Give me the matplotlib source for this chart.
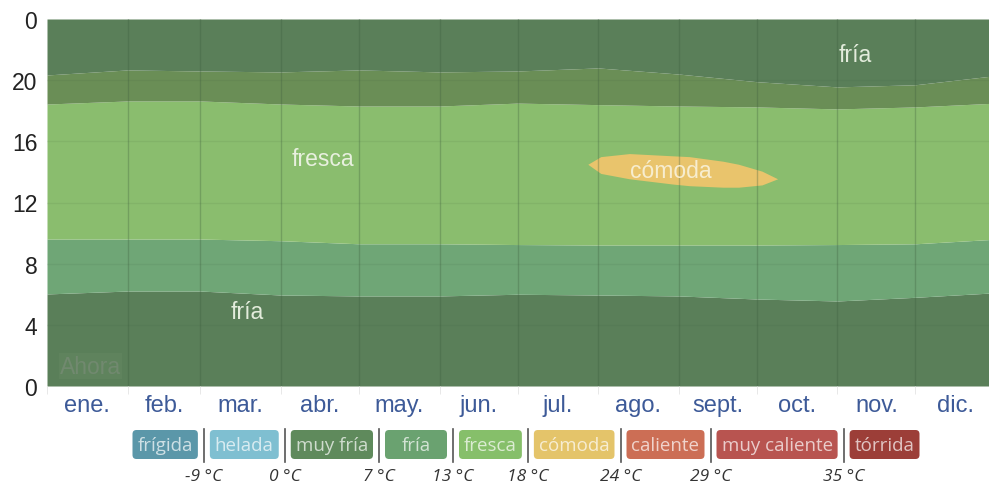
import matplotlib.pyplot as plt
import numpy as np
from matplotlib.patches import FancyBboxPatch

plt.rcParams['font.family'] = ['Liberation Sans', 'DejaVu Sans']

# días del año donde empieza cada mes (y fin de año)
inicio_mes = [0, 31, 59, 90, 120, 151, 181, 212, 243, 273, 304, 334, 365]
meses = ['ene.', 'feb.', 'mar.', 'abr.', 'may.', 'jun.',
         'jul.', 'ago.', 'sept.', 'oct.', 'nov.', 'dic.']

lim_fria_abajo = [6.02, 6.21, 6.21, 5.95, 5.89, 5.89, 6.0, 5.95, 5.89, 5.69, 5.56, 5.8, 6.1]
lim_fresca_abajo = [9.61, 9.61, 9.61, 9.5, 9.3, 9.3, 9.25, 9.22, 9.22, 9.22, 9.25, 9.3, 9.6]
lim_fresca_arriba = [18.44, 18.64, 18.64, 18.44, 18.31, 18.31, 18.5, 18.4, 18.31, 18.25, 18.12, 18.25, 18.5]
lim_fria_arriba = [20.34, 20.67, 20.6, 20.54, 20.67, 20.54, 20.6, 20.8, 20.4, 19.9, 19.56, 19.7, 20.3]

# zona cómoda
dias_comoda = [208, 213, 224, 241, 247, 260, 266, 275, 281]
comoda_arriba = [14.5, 15.0, 15.2, 15.05, 15.0, 14.7, 14.5, 14.05, 13.55]
comoda_abajo = [14.5, 13.9, 13.55, 13.2, 13.1, 13.0, 13.0, 13.15, 13.55]

horas_ticks = [0, 4, 8, 12, 16, 20, 24]
horas_labels = ['0', '4', '8', '12', '16', '20', '0']

# leyenda
categorias = ['frígida', 'helada', 'muy fría', 'fría', 'fresca',
              'cómoda', 'caliente', 'muy caliente', 'tórrida']
colores_cat = ['#5b97a9', '#7fbfd1', '#5f8a5c', '#6aa270', '#86bf6a',
               '#e4c46a', '#cc6e55', '#b85450', '#9c3e38']
umbrales = ['-9 °C', '0 °C', '7 °C', '13 °C', '18 °C', '24 °C', '29 °C', '35 °C']

c_oscuro = '#5a7f59'
c_medio = '#6fa676'
c_fresca = '#8abd6e'
c_oliva = '#6a8e56'
c_comoda = '#e9c46c'

fig = plt.figure(figsize=(9.89, 4.85), dpi=100)
ax = fig.add_axes([47 / 989, 98 / 485, 949 / 989, 367 / 485])

# bandas
ax.fill_between(inicio_mes, 0, lim_fria_abajo, color=c_oscuro, lw=0)
ax.fill_between(inicio_mes, lim_fria_abajo, lim_fresca_abajo, color=c_medio, lw=0)
ax.fill_between(inicio_mes, lim_fresca_abajo, lim_fresca_arriba, color=c_fresca, lw=0)
ax.fill_between(inicio_mes, lim_fresca_arriba, lim_fria_arriba, color=c_oliva, lw=0)
ax.fill_between(inicio_mes, lim_fria_arriba, 24, color=c_oscuro, lw=0)
ax.fill_between(dias_comoda, comoda_abajo, comoda_arriba, color=c_comoda, lw=0)

# rejilla
for d in inicio_mes[1:-1]:
    ax.axvline(d, color='#3c5c3c', lw=1, alpha=0.3, zorder=3)
for h in horas_ticks[1:-1]:
    ax.axhline(h, color='#3c5c3c', lw=1, alpha=0.1, zorder=3)

# etiquetas dentro del gráfico
txt_kw = dict(fontsize=16.5, ha='center', va='center', zorder=4)
ax.text(106, 14.85, 'fresca', color='#e8f0df', **txt_kw)
ax.text(240, 14.06, 'cómoda', color='#f7edcf', **txt_kw)
ax.text(311, 21.65, 'fría', color='#e3ecdc', **txt_kw)
ax.text(77, 4.84, 'fría', color='#e3ecdc', **txt_kw)
ax.text(5, 1.3, 'Ahora', color='#71896f', fontsize=16.5, ha='left', va='center', zorder=4,
        bbox=dict(boxstyle='square,pad=0.05', fc='#5f835d', ec='none'))

ax.set_xlim(0, 365)
ax.set_ylim(0, 24)
medios = [(a + b) / 2 for a, b in zip(inicio_mes[:-1], inicio_mes[1:])]
ax.set_xticks(medios, labels=meses)
ax.set_xticks(inicio_mes, minor=True)
ax.tick_params(axis='x', which='major', length=0, pad=6, labelsize=17, labelcolor='#3d5a98')
ax.tick_params(axis='x', which='minor', length=6, color='#e4e4e4')
ax.set_yticks(horas_ticks, labels=horas_labels)
ax.tick_params(axis='y', length=0, pad=7, labelsize=16.5, labelcolor='#222222')
for s in ax.spines.values():
    s.set_visible(False)

# leyenda de categorías en píxeles
lg = fig.add_axes([0, 0, 1, 1])
lg.set_xlim(0, 989)
lg.set_ylim(485, 0)
lg.axis('off')
lg.patch.set_alpha(0)

renderer = fig.canvas.get_renderer()
textos = []
anchos = []
for nombre, col in zip(categorias, colores_cat):
    rgb = np.array(plt.matplotlib.colors.to_rgb(col))
    tinte = 0.3 * rgb + 0.7
    t = lg.text(0, 446, nombre, fontsize=13.5, family='Open Sans', color=tinte,
                ha='center', va='center', zorder=3)
    textos.append(t)
    anchos.append(max(t.get_window_extent(renderer).width + 10, 62))

gap = 12
total = sum(anchos) + gap * (len(anchos) - 1)
x = 526 - total / 2
for i, (t, w, col) in enumerate(zip(textos, anchos, colores_cat)):
    lg.add_patch(FancyBboxPatch((x, 431), w, 29, boxstyle='round,pad=0,rounding_size=4',
                                fc=col, ec='none', zorder=2))
    t.set_x(x + w / 2)
    x += w
    if i < len(umbrales):
        xs = x + gap / 2
        lg.plot([xs, xs], [430, 463], color='#555555', lw=1.2, zorder=2)
        lg.text(xs, 477, umbrales[i], fontsize=12.5, family='Open Sans', style='italic',
                color='#333333', ha='center', va='center')
    x += gap

fig.savefig('out.png', dpi=100)
